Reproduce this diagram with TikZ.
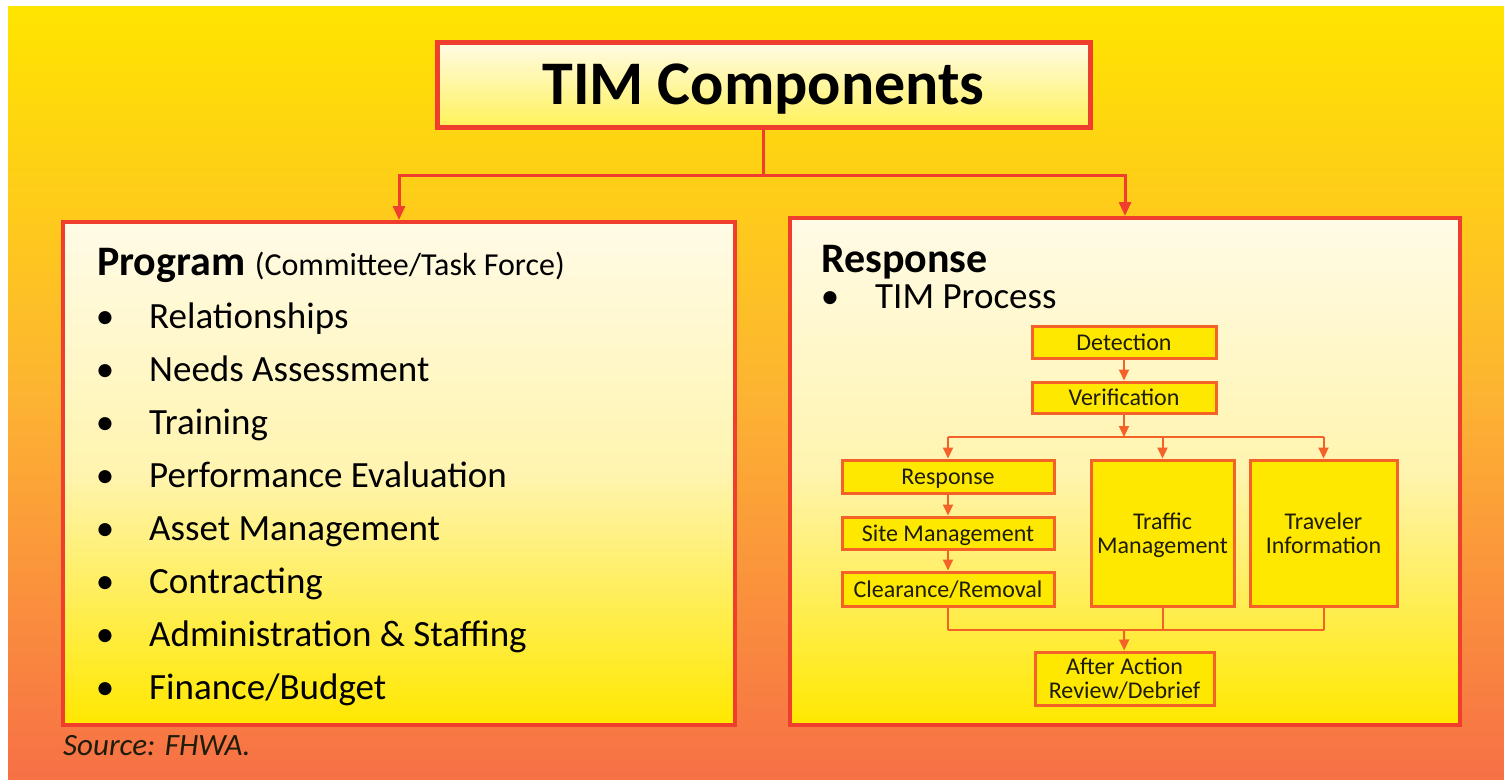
\documentclass[tikz,border=0pt]{standalone}
\usepackage{fontspec}
\setmainfont{Carlito}
\usetikzlibrary{arrows.meta}
\definecolor{bgtop}{RGB}{255,229,0}
\definecolor{bgmid}{RGB}{253,180,50}
\definecolor{bgbot}{RGB}{247,112,70}
\definecolor{boxred}{RGB}{240,62,46}
\definecolor{flowred}{RGB}{244,98,40}
\definecolor{cream}{RGB}{255,251,230}
\definecolor{paleyel}{RGB}{255,244,175}
\definecolor{flowyel}{RGB}{255,232,0}
\definecolor{titleyel}{RGB}{255,242,90}
\definecolor{inkdark}{RGB}{30,28,10}

\begin{document}
\begin{tikzpicture}[x=1pt,y=-1pt,
  panel/.style={draw=boxred, line width=4pt, inner sep=0pt,
    top color=cream, bottom color=flowyel, middle color=paleyel},
  titlebox/.style={draw=boxred, line width=5pt, inner sep=0pt,
    top color=cream, bottom color=titleyel, text depth=0pt,
    font=\bfseries\fontsize{62}{70}\selectfont},
  flowbox/.style={draw=flowred, line width=3pt, fill=flowyel, inner sep=0pt,
    align=center, text=inkdark, text depth=0pt,
    font=\fontsize{24}{24}\selectfont},
  head/.style={anchor=base west, inner sep=0pt, font=\bfseries\fontsize{42}{48}\selectfont},
  item/.style={anchor=base west, inner sep=0pt, font=\fontsize{37}{44}\selectfont},
  bullet/.style={anchor=base, inner sep=0pt, font=\fontsize{37}{44}\selectfont},
  conn/.style={draw=boxred, line width=3pt},
  flow/.style={draw=flowred, line width=2pt},
  flowtip/.style={-{Triangle[length=11pt,width=10pt]}},
  >={Triangle[length=14pt,width=12pt]}
]
\useasboundingbox (0,0) rectangle (1504,779);
\fill[white] (0,0) rectangle (1504,779);
\shade[top color=bgtop, bottom color=bgbot, middle color=bgmid] (8,6) rectangle (1504,779);

% title and the two panels
\node[titlebox, minimum width=653pt, minimum height=85pt] (title) at (763.5,84.5) {TIM Components};
\node[panel, minimum width=672pt, minimum height=503pt] (progbox) at (399,473.5) {};
\node[panel, minimum width=670pt, minimum height=507pt] (respbox) at (1125,471.5) {};
%
\coordinate (split) at (763.5,175);
\draw[conn] (title) -- (split);
\draw[conn,->] (split) -| (progbox);
\draw[conn,->] (split) -| (respbox);

% program list
\node[head] (progtitle) at (97,275) {Program {\mdseries\fontsize{32}{38}\selectfont (Committee/Task Force)}};
\foreach \txt [count=\i] in {Relationships, Needs Assessment, Training,
    Performance Evaluation, Asset Management, Contracting,
    Administration \& Staffing, Finance/Budget}{
  \node[bullet] (pb\i) at (105,275+53*\i) {\textbullet};
  \node[item] (pi\i) at (149,275+53*\i) {\txt};
}

% response side
\node[head] (resptitle) at (821,272) {Response};
\node[bullet] (rb1) at (830,308) {\textbullet};
\node[item] (ri1) at (875,308) {TIM Process};

% TIM process flow
\node[flowbox, minimum width=184pt, minimum height=32pt] (detect) at (1124,342) {Detection};
\node[flowbox, minimum width=184pt, minimum height=31pt] (verif) at (1124,397.5) {Verification};
\node[flowbox, minimum width=212pt, minimum height=33pt] (rsp) at (948,476.5) {Response};
\node[flowbox, minimum width=212pt, minimum height=32pt] (site) at (948,533) {Site Management};
\node[flowbox, minimum width=212pt, minimum height=34pt] (clear) at (948,589) {Clearance/Removal};
\node[flowbox, minimum width=143pt, minimum height=146pt] (traf) at (1162.5,533) {Traffic\\Management};
\node[flowbox, minimum width=147pt, minimum height=146pt] (trav) at (1323.5,533) {Traveler\\Information};
\node[flowbox, minimum width=179pt, minimum height=53pt] (after) at (1124.5,678.5) {After Action\\Review/Debrief};
%
\coordinate (vsplit) at (1124,437);
\coordinate (join) at (1124,630);
\draw[flow,flowtip] (detect) -- (verif);
\draw[flow,flowtip] (verif) -- (vsplit);
\draw[flow] (rsp |- vsplit) -- (trav |- vsplit);
\foreach \n in {rsp,traf,trav}
  \draw[flow,flowtip] (\n |- vsplit) -- (\n);
\draw[flow,flowtip] (rsp) -- (site);
\draw[flow,flowtip] (site) -- (clear);
\foreach \n in {clear,traf,trav}
  \draw[flow] (\n) -- (\n |- join);
\draw[flow] (clear |- join) -- (trav |- join);
\draw[flow,flowtip] (join) -- (after);

% source line
\node[anchor=base west, inner sep=0pt, text=inkdark, font=\itshape\fontsize{31}{36}\selectfont] (source) at (63,755) {Source: FHWA.};
\end{tikzpicture}
\end{document}
